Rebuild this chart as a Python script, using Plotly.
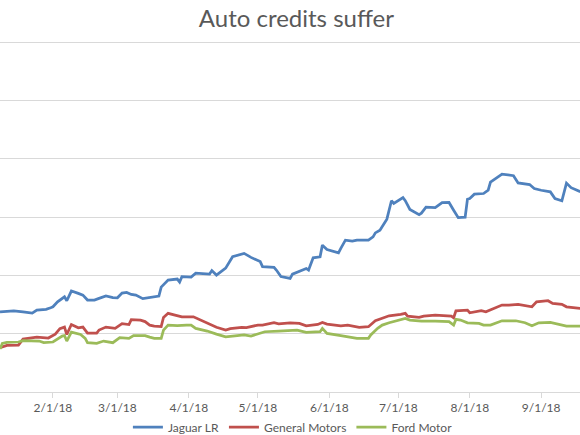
import plotly.graph_objects as go

# Jaguar LR spread
jlr_dates = [
    "2018-01-09", "2018-01-15", "2018-01-19", "2018-01-23", "2018-01-25", "2018-01-29",
    "2018-01-31", "2018-02-01", "2018-02-03", "2018-02-06", "2018-02-07", "2018-02-09",
    "2018-02-12", "2018-02-14", "2018-02-16", "2018-02-19", "2018-02-21", "2018-02-24",
    "2018-02-27", "2018-03-01", "2018-03-03", "2018-03-05", "2018-03-07", "2018-03-09",
    "2018-03-12", "2018-03-15", "2018-03-19", "2018-03-20", "2018-03-23", "2018-03-27",
    "2018-03-28", "2018-03-29", "2018-04-02", "2018-04-04", "2018-04-10", "2018-04-11",
    "2018-04-13", "2018-04-17", "2018-04-20", "2018-04-25", "2018-04-28", "2018-05-02",
    "2018-05-03", "2018-05-08", "2018-05-09", "2018-05-11", "2018-05-15", "2018-05-16",
    "2018-05-19", "2018-05-22", "2018-05-23", "2018-05-25", "2018-05-28", "2018-05-29",
    "2018-05-31", "2018-06-05", "2018-06-06", "2018-06-08", "2018-06-11", "2018-06-13",
    "2018-06-18", "2018-06-20", "2018-06-21", "2018-06-23", "2018-06-26", "2018-06-28",
    "2018-06-29", "2018-07-03", "2018-07-04", "2018-07-06", "2018-07-10", "2018-07-11",
    "2018-07-13", "2018-07-17", "2018-07-20", "2018-07-23", "2018-07-25", "2018-07-27",
    "2018-07-30", "2018-07-31", "2018-08-01", "2018-08-03", "2018-08-07", "2018-08-09",
    "2018-08-10", "2018-08-15", "2018-08-20", "2018-08-22", "2018-08-27", "2018-08-29",
    "2018-09-01", "2018-09-05", "2018-09-07", "2018-09-10", "2018-09-12", "2018-09-14",
    "2018-09-18",
]
jlr_vals = [
    68.8, 69.7, 68.8, 67.7, 70.3, 70.9,
    72.3, 73.1, 77.4, 81.7, 78.3, 86.6,
    84.6, 83.1, 78.9, 78.9, 80.3, 82.5,
    81.0, 80.8, 84.9, 85.4, 83.7, 83.1,
    80.1, 81.0, 82.3, 90.0, 96.0, 96.9,
    94.3, 99.0, 98.6, 102.0, 101.2, 104.2,
    100.3, 106.3, 116.1, 118.9, 115.5, 111.9,
    107.6, 106.9, 104.6, 99.0, 97.5, 101.1,
    103.7, 106.0, 104.6, 115.1, 116.0, 126.0,
    122.3, 119.4, 123.2, 130.3, 129.4, 130.3,
    130.3, 133.1, 136.5, 138.8, 148.3, 164.1,
    161.7, 166.7, 164.1, 156.6, 152.1, 153.4,
    158.6, 158.1, 162.4, 162.6, 156.0, 149.6,
    150.0, 165.4, 166.0, 169.7, 170.3, 173.1,
    180.0, 186.9, 185.6, 179.4, 178.0, 174.6,
    173.1, 171.7, 165.9, 164.1, 179.2, 175.3,
    171.9,
]

# General Motors
gm_dates = [
    "2018-01-09", "2018-01-12", "2018-01-17", "2018-01-19", "2018-01-25", "2018-01-30",
    "2018-02-02", "2018-02-04", "2018-02-06", "2018-02-07", "2018-02-09", "2018-02-12",
    "2018-02-14", "2018-02-16", "2018-02-20", "2018-02-21", "2018-02-24", "2018-02-28",
    "2018-03-03", "2018-03-06", "2018-03-07", "2018-03-11", "2018-03-13", "2018-03-15",
    "2018-03-17", "2018-03-20", "2018-03-21", "2018-03-23", "2018-03-26", "2018-03-29",
    "2018-04-03", "2018-04-05", "2018-04-06", "2018-04-09", "2018-04-13", "2018-04-17",
    "2018-04-19", "2018-04-24", "2018-04-26", "2018-05-01", "2018-05-03", "2018-05-08",
    "2018-05-10", "2018-05-15", "2018-05-19", "2018-05-22", "2018-05-27", "2018-05-29",
    "2018-05-31", "2018-06-06", "2018-06-09", "2018-06-14", "2018-06-18", "2018-06-21",
    "2018-06-24", "2018-06-27", "2018-07-02", "2018-07-04", "2018-07-05", "2018-07-10",
    "2018-07-12", "2018-07-17", "2018-07-24", "2018-07-25", "2018-07-26", "2018-07-31",
    "2018-08-01", "2018-08-06", "2018-08-08", "2018-08-15", "2018-08-18", "2018-08-22",
    "2018-08-28", "2018-08-30", "2018-09-04", "2018-09-06", "2018-09-10", "2018-09-12",
    "2018-09-18",
]
gm_vals = [
    38.1, 39.9, 40.3, 45.4, 47.1, 46.3,
    49.7, 54.4, 55.7, 49.3, 57.9, 55.1,
    55.7, 50.6, 50.6, 53.1, 55.7, 54.6,
    58.7, 57.9, 62.1, 61.7, 60.4, 57.4,
    56.6, 56.1, 63.9, 67.5, 66.0, 64.5,
    64.5, 62.6, 61.7, 59.4, 55.5, 53.1,
    54.4, 55.5, 55.3, 57.4, 57.4, 59.4,
    58.5, 59.4, 58.9, 56.8, 58.0, 59.7,
    58.3, 56.8, 57.4, 55.5, 56.0, 61.1,
    63.2, 65.4, 66.6, 67.5, 65.1, 64.0,
    65.1, 66.0, 65.1, 63.7, 69.7, 70.3,
    68.0, 69.7, 68.8, 74.6, 74.6, 75.2,
    73.1, 77.4, 78.3, 76.0, 75.2, 73.1,
    71.7,
]

# Ford Motor
ford_dates = [
    "2018-01-09", "2018-01-10", "2018-01-12", "2018-01-17", "2018-01-19", "2018-01-26",
    "2018-01-28", "2018-02-01", "2018-02-05", "2018-02-06", "2018-02-07", "2018-02-09",
    "2018-02-13", "2018-02-15", "2018-02-16", "2018-02-20", "2018-02-23", "2018-02-27",
    "2018-03-02", "2018-03-06", "2018-03-08", "2018-03-13", "2018-03-15", "2018-03-17",
    "2018-03-20", "2018-03-21", "2018-03-23", "2018-03-27", "2018-03-31", "2018-04-02",
    "2018-04-04", "2018-04-09", "2018-04-13", "2018-04-17", "2018-04-20", "2018-04-25",
    "2018-04-28", "2018-05-02", "2018-05-04", "2018-05-10", "2018-05-15", "2018-05-18",
    "2018-05-22", "2018-05-28", "2018-05-29", "2018-05-31", "2018-06-06", "2018-06-09",
    "2018-06-13", "2018-06-18", "2018-06-19", "2018-06-22", "2018-06-24", "2018-06-27",
    "2018-07-01", "2018-07-04", "2018-07-06", "2018-07-11", "2018-07-17", "2018-07-23",
    "2018-07-25", "2018-07-26", "2018-07-28", "2018-07-31", "2018-08-05", "2018-08-07",
    "2018-08-10", "2018-08-15", "2018-08-21", "2018-08-25", "2018-08-28", "2018-08-31",
    "2018-09-05", "2018-09-08", "2018-09-12", "2018-09-18",
]
ford_vals = [
    36.9, 41.7, 42.6, 42.9, 44.1, 43.7,
    42.4, 42.9, 48.0, 48.4, 43.7, 51.4,
    49.3, 46.0, 42.4, 41.7, 43.7, 42.3,
    46.7, 46.0, 48.4, 48.4, 47.1, 46.0,
    46.0, 53.1, 57.4, 57.0, 57.4, 57.4,
    54.6, 52.3, 49.7, 47.4, 48.0, 48.9,
    48.0, 50.3, 51.7, 52.3, 53.1, 53.1,
    51.2, 51.7, 54.6, 50.3, 48.3, 47.4,
    46.0, 46.0, 48.9, 54.6, 57.4, 59.4,
    61.7, 63.2, 61.7, 60.9, 60.9, 60.3,
    57.4, 62.3, 61.7, 59.4, 58.9, 57.4,
    57.4, 61.1, 61.1, 59.4, 56.8, 59.4,
    59.7, 58.3, 56.6, 56.6,
]

grey = "#595959"
grid = "#d9d9d9"

fig = go.Figure()
fig.add_trace(go.Scatter(x=jlr_dates, y=jlr_vals, mode="lines", name="Jaguar LR",
                         line=dict(color="#4f81bd", width=2.75)))
fig.add_trace(go.Scatter(x=gm_dates, y=gm_vals, mode="lines", name="General Motors",
                         line=dict(color="#c0504d", width=2.75)))
fig.add_trace(go.Scatter(x=ford_dates, y=ford_vals, mode="lines", name="Ford Motor",
                         line=dict(color="#9bbb59", width=2.75)))

fig.update_layout(
    width=580, height=435,
    margin=dict(l=0, r=0, t=40, b=43, autoexpand=False),
    paper_bgcolor="white", plot_bgcolor="white",
    font=dict(family="Lato", color=grey, size=12),
    title=dict(text="Auto credits suffer", x=0.511, xanchor="center",
               y=0.958, yref="container", yanchor="middle",
               font=dict(size=24, color=grey)),
    showlegend=True,
    legend=dict(orientation="h", x=0.505, xanchor="center", y=-0.1, yanchor="middle",
                font=dict(size=12, color=grey)),
    xaxis=dict(range=["2018-01-09", "2018-09-17 21:00"], tick0="2018-01-01", dtick="M1",
               tickformat="%-m/%-d/%y", showgrid=False, showline=True, linecolor=grid,
               ticks="outside", ticklen=5, tickcolor=grid, automargin=False,
               tickfont=dict(size=12, color=grey)),
    yaxis=dict(range=[0, 302], tick0=0, dtick=50, showgrid=True, gridcolor=grid, gridwidth=1,
               zeroline=False, showticklabels=False, automargin=False),
)

# the page's default 8px body margin would shift the whole chart
fig.write_html("out.html", config={"displayModeBar": False},
               post_script="document.body.style.margin = '0';")
